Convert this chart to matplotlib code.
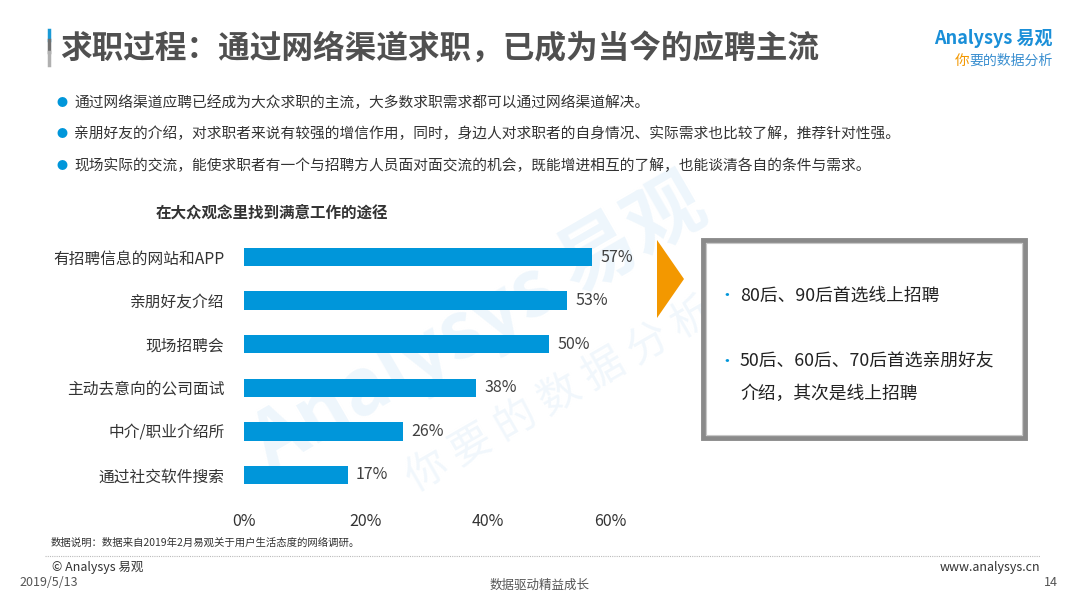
import matplotlib
matplotlib.use("Agg")
import matplotlib.pyplot as plt
from matplotlib.patches import Rectangle, Polygon
from matplotlib.lines import Line2D

plt.rcParams['font.family'] = ['Noto Sans CJK SC', 'DejaVu Sans']

categories = ["有招聘信息的网站和APP", "亲朋好友介绍", "现场招聘会", "主动去意向的公司面试", "中介/职业介绍所", "通过社交软件搜索"]
values = [0.57, 0.53, 0.50, 0.38, 0.26, 0.17]
value_labels = ["57%", "53%", "50%", "38%", "26%", "17%"]
xticks = [0, 0.2, 0.4, 0.6]
xtick_labels = ["0%", "20%", "40%", "60%"]

title = "求职过程：通过网络渠道求职，已成为当今的应聘主流"
bullets = [
    "通过网络渠道应聘已经成为大众求职的主流，大多数求职需求都可以通过网络渠道解决。",
    "亲朋好友的介绍，对求职者来说有较强的增信作用，同时，身边人对求职者的自身情况、实际需求也比较了解，推荐针对性强。",
    "现场实际的交流，能使求职者有一个与招聘方人员面对面交流的机会，既能增进相互的了解，也能谈清各自的条件与需求。",
]
chart_title = "在大众观念里找到满意工作的途径"
box_lines = ["80后、90后首选线上招聘", "50后、60后、70后首选亲朋好友", "介绍，其次是线上招聘"]
footnote = "数据说明：数据来自2019年2月易观关于用户生活态度的网络调研。"

W, H = 1080, 607
fig = plt.figure(figsize=(W / 100, H / 100), dpi=100)
fig.patch.set_facecolor("white")

def fx(x):
    return x / W

def fy(y):
    return 1 - y / H

blue = "#0096DA"
dark = "#404040"

# watermark (behind everything)
fig.text(fx(480), fy(325), "Analysys 易观", fontsize=56, color="#eef6fc", rotation=30,
         ha="center", va="center", fontweight="bold", zorder=-5)
fig.text(fx(560), fy(395), "你 要 的 数 据 分 析", fontsize=30, color="#f1f7fc", rotation=30,
         ha="center", va="center", zorder=-5)

# title bar
fig.add_artist(Line2D([fx(49), fx(49)], [fy(30), fy(40)], color="#1a9ad6", lw=2.5))
fig.add_artist(Line2D([fx(49), fx(49)], [fy(40), fy(52)], color="#707070", lw=2.5))
fig.add_artist(Line2D([fx(49), fx(49)], [fy(52), fy(65)], color="#b0b0b0", lw=2.5))
fig.text(fx(60), fy(49), title, fontsize=22.8, fontweight="bold", color="#505050", ha="left", va="center")

# logo
fig.text(fx(1053), fy(38), "Analysys 易观", fontsize=13, color="#1a8fd8", ha="right", va="center",
         fontweight="bold", style="italic")
fig.text(fx(1053), fy(61), "要的数据分析", fontsize=10, color="#3a8fd0", ha="right", va="center",
         style="italic")
fig.text(fx(969), fy(61), "你", fontsize=10.5, color="#f39800", ha="right", va="center", style="italic")

# bullets
for i, b in enumerate(bullets):
    y = [103, 134, 166][i]
    fig.text(fx(62), fy(y), "●", fontsize=8, color=blue, ha="center", va="center")
    fig.text(fx(74), fy(y), b, fontsize=10.6, color="#333333", ha="left", va="center")

# chart title
fig.text(fx(272), fy(213), chart_title, fontsize=11.2, fontweight="bold", color="#333333",
         ha="center", va="center")

# bar chart
ax = fig.add_axes([fx(244), fy(505), fx(610) - fx(244), fy(227) - fy(505)])
ax.set_facecolor("none")
ypos = list(range(len(categories)))
ax.barh(ypos, values, height=0.42, color=blue, zorder=2)
ax.set_xlim(0, 0.6)
ax.set_ylim(len(categories) - 1 + 0.69, -0.69)
ax.set_yticks(ypos)
ax.set_yticklabels(categories, fontsize=11.3, color="#333333")
ax.set_xticks(xticks)
ax.set_xticklabels(xtick_labels, fontsize=11.5, color="#333333")
ax.tick_params(axis="both", length=0)
ax.tick_params(axis="y", pad=14)
ax.tick_params(axis="x", pad=6)
for s in ax.spines.values():
    s.set_visible(False)
for yv, v, lab in zip(ypos, values, value_labels):
    ax.annotate(lab, xy=(v, yv), xytext=(6, 0), textcoords="offset points",
                ha="left", va="center", fontsize=11.5, color=dark)

# orange arrow
fig.add_artist(Polygon([[fx(657), fy(240)], [fx(684), fy(279)], [fx(657), fy(318)]],
                       closed=True, facecolor="#F39800", edgecolor="none"))

# box
fig.add_artist(Rectangle((fx(703), fy(438)), fx(1025) - fx(703), fy(240) - fy(438),
                         facecolor="white", edgecolor="#8a8a8a", lw=3.5))
fig.add_artist(Rectangle((fx(706), fy(435)), fx(1022) - fx(706), fy(243) - fy(435),
                         facecolor="none", edgecolor="#c8c8c8", lw=0.8))
fig.text(fx(727), fy(296), "•", fontsize=12, color=blue, ha="center", va="center")
fig.text(fx(740), fy(296), box_lines[0], fontsize=12.8, color="#222222", ha="left", va="center")
fig.text(fx(727), fy(361), "•", fontsize=12, color=blue, ha="center", va="center")
fig.text(fx(740), fy(361), box_lines[1], fontsize=12.8, color="#222222", ha="left", va="center")
fig.text(fx(740), fy(394), box_lines[2], fontsize=12.8, color="#222222", ha="left", va="center")

# footnote & footer
fig.text(fx(51), fy(543), footnote, fontsize=7.5, color="#333333", ha="left", va="center")
fig.add_artist(Line2D([fx(45), fx(1040)], [fy(556), fy(556)], color="#bbbbbb", lw=0.8, ls=(0, (1, 1))))
fig.text(fx(52), fy(568), "© Analysys 易观", fontsize=9, color="#333333", ha="left", va="center")
fig.text(fx(19), fy(583), "2019/5/13", fontsize=9, color="#555555", ha="left", va="center")
fig.text(fx(540), fy(585), "数据驱动精益成长", fontsize=9, color="#555555", ha="center", va="center")
fig.text(fx(1040), fy(568), "www.analysys.cn", fontsize=9, color="#333333", ha="right", va="center")
fig.text(fx(1058), fy(583), "14", fontsize=9, color="#555555", ha="right", va="center")

fig.savefig("out.png", dpi=100)
